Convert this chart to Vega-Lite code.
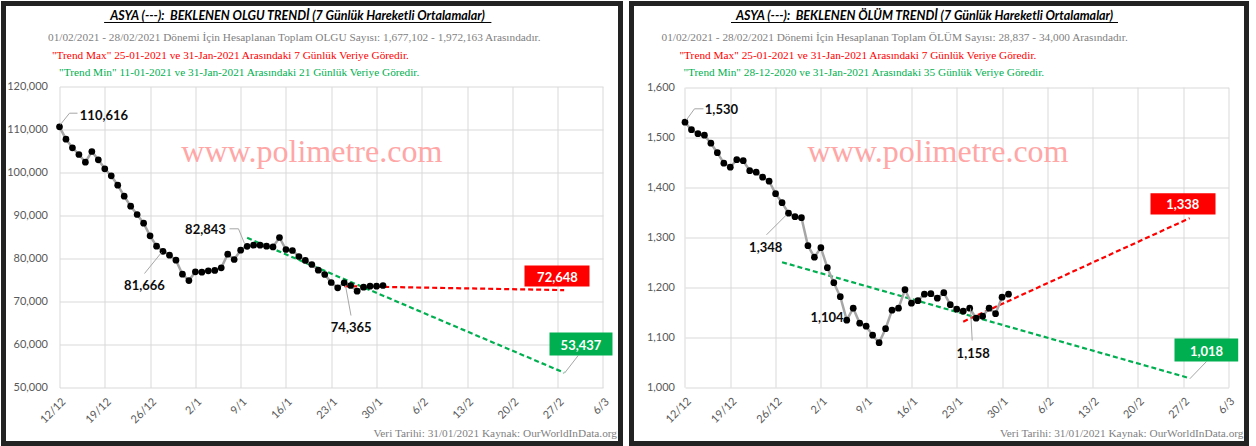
{
  "$schema": "https://vega.github.io/schema/vega-lite/v6.json",
  "background": "white",
  "padding": {"left": 0.5, "top": 0.5, "right": 0, "bottom": 0},
  "spacing": 5,
  "config": {
    "view": {"stroke": "#222222", "strokeWidth": 5, "fill": "white"},
    "axis": {"labelFont": "Lato", "labelFontSize": 11, "labelColor": "#595959", "domain": false, "grid": false, "tickColor": "#d9d9d9", "tickWidth": 1, "labelOverlap": false, "labelFlush": false, "labelBound": false},
    "text": {"font": "Lato"}
  },
  "datasets": {
    "olgu": [
      {"date": "2020-12-12", "value": 110616}, {"date": "2020-12-13", "value": 107744}, {"date": "2020-12-14", "value": 105744},
      {"date": "2020-12-15", "value": 104186}, {"date": "2020-12-16", "value": 102395}, {"date": "2020-12-17", "value": 104884},
      {"date": "2020-12-18", "value": 102953}, {"date": "2020-12-19", "value": 100860}, {"date": "2020-12-20", "value": 99233},
      {"date": "2020-12-21", "value": 97047}, {"date": "2020-12-22", "value": 94488}, {"date": "2020-12-23", "value": 92163},
      {"date": "2020-12-24", "value": 90233}, {"date": "2020-12-25", "value": 88209}, {"date": "2020-12-26", "value": 85279},
      {"date": "2020-12-27", "value": 82860}, {"date": "2020-12-28", "value": 81666}, {"date": "2020-12-29", "value": 80770},
      {"date": "2020-12-30", "value": 79600}, {"date": "2020-12-31", "value": 76350}, {"date": "2021-01-01", "value": 74870},
      {"date": "2021-01-02", "value": 76900}, {"date": "2021-01-03", "value": 76830}, {"date": "2021-01-04", "value": 77140},
      {"date": "2021-01-05", "value": 77220}, {"date": "2021-01-06", "value": 77840}, {"date": "2021-01-07", "value": 81000},
      {"date": "2021-01-08", "value": 79770}, {"date": "2021-01-09", "value": 81930}, {"date": "2021-01-10", "value": 82843},
      {"date": "2021-01-11", "value": 83100}, {"date": "2021-01-12", "value": 83100}, {"date": "2021-01-13", "value": 82860},
      {"date": "2021-01-14", "value": 82700}, {"date": "2021-01-15", "value": 84880}, {"date": "2021-01-16", "value": 82090},
      {"date": "2021-01-17", "value": 81860}, {"date": "2021-01-18", "value": 80470}, {"date": "2021-01-19", "value": 79540},
      {"date": "2021-01-20", "value": 78600}, {"date": "2021-01-21", "value": 77290}, {"date": "2021-01-22", "value": 76280},
      {"date": "2021-01-23", "value": 74420}, {"date": "2021-01-24", "value": 73190}, {"date": "2021-01-25", "value": 74365},
      {"date": "2021-01-26", "value": 73720}, {"date": "2021-01-27", "value": 72400}, {"date": "2021-01-28", "value": 73330},
      {"date": "2021-01-29", "value": 73560}, {"date": "2021-01-30", "value": 73560}, {"date": "2021-01-31", "value": 73720}
    ],
    "olguTrend": [
      {"trend": "Trend Min", "date": "2021-01-10", "value": 84800},
      {"trend": "Trend Min", "date": "2021-02-28", "value": 53437},
      {"trend": "Trend Max", "date": "2021-01-25", "value": 73560},
      {"trend": "Trend Max", "date": "2021-02-28", "value": 72648}
    ],
    "olum": [
      {"date": "2020-12-12", "value": 1530}, {"date": "2020-12-13", "value": 1515}, {"date": "2020-12-14", "value": 1507},
      {"date": "2020-12-15", "value": 1504}, {"date": "2020-12-16", "value": 1488}, {"date": "2020-12-17", "value": 1469},
      {"date": "2020-12-18", "value": 1448}, {"date": "2020-12-19", "value": 1440}, {"date": "2020-12-20", "value": 1455},
      {"date": "2020-12-21", "value": 1453}, {"date": "2020-12-22", "value": 1433}, {"date": "2020-12-23", "value": 1430},
      {"date": "2020-12-24", "value": 1420}, {"date": "2020-12-25", "value": 1412}, {"date": "2020-12-26", "value": 1387},
      {"date": "2020-12-27", "value": 1369}, {"date": "2020-12-28", "value": 1348}, {"date": "2020-12-29", "value": 1341},
      {"date": "2020-12-30", "value": 1339}, {"date": "2020-12-31", "value": 1283}, {"date": "2021-01-01", "value": 1260},
      {"date": "2021-01-02", "value": 1279}, {"date": "2021-01-03", "value": 1239}, {"date": "2021-01-04", "value": 1209},
      {"date": "2021-01-05", "value": 1181}, {"date": "2021-01-06", "value": 1134}, {"date": "2021-01-07", "value": 1158},
      {"date": "2021-01-08", "value": 1128}, {"date": "2021-01-09", "value": 1122}, {"date": "2021-01-10", "value": 1104},
      {"date": "2021-01-11", "value": 1089}, {"date": "2021-01-12", "value": 1117}, {"date": "2021-01-13", "value": 1154},
      {"date": "2021-01-14", "value": 1158}, {"date": "2021-01-15", "value": 1195}, {"date": "2021-01-16", "value": 1168},
      {"date": "2021-01-17", "value": 1173}, {"date": "2021-01-18", "value": 1186}, {"date": "2021-01-19", "value": 1187},
      {"date": "2021-01-20", "value": 1178}, {"date": "2021-01-21", "value": 1189}, {"date": "2021-01-22", "value": 1165},
      {"date": "2021-01-23", "value": 1156}, {"date": "2021-01-24", "value": 1152}, {"date": "2021-01-25", "value": 1158},
      {"date": "2021-01-26", "value": 1138}, {"date": "2021-01-27", "value": 1142}, {"date": "2021-01-28", "value": 1158},
      {"date": "2021-01-29", "value": 1147}, {"date": "2021-01-30", "value": 1180}, {"date": "2021-01-31", "value": 1186}
    ],
    "olumTrend": [
      {"trend": "Trend Min", "date": "2020-12-27", "value": 1250},
      {"trend": "Trend Min", "date": "2021-02-28", "value": 1018},
      {"trend": "Trend Max", "date": "2021-01-24", "value": 1131},
      {"trend": "Trend Max", "date": "2021-02-28", "value": 1338}
    ]
  },
  "hconcat": [
    {
      "width": 617,
      "height": 440,
      "layer": [
        {"data": {"values": [{}]}, "mark": {"type": "text", "text": "www.polimetre.com", "font": "Liberation Serif", "fontSize": 32, "color": "#ffa6a6", "align": "center", "baseline": "alphabetic"},
         "encoding": {"x": {"datum": 1611100800000, "type": "temporal"}, "y": {"datum": 102395, "type": "quantitative"}}},
        {
          "encoding": {
            "x": {
              "field": "date", "type": "temporal",
              "scale": {"type": "utc", "domain": [{"year": 2020, "month": 12, "date": 3, "hours": 8, "minutes": 17, "utc": true}, {"year": 2021, "month": 3, "date": 8, "hours": 17, "utc": true}]},
              "axis": {
                "values": [
                  {"year": 2020, "month": 12, "date": 12, "utc": true}, {"year": 2020, "month": 12, "date": 19, "utc": true}, {"year": 2020, "month": 12, "date": 26, "utc": true},
                  {"year": 2021, "month": 1, "date": 2, "utc": true}, {"year": 2021, "month": 1, "date": 9, "utc": true}, {"year": 2021, "month": 1, "date": 16, "utc": true},
                  {"year": 2021, "month": 1, "date": 23, "utc": true}, {"year": 2021, "month": 1, "date": 30, "utc": true}, {"year": 2021, "month": 2, "date": 6, "utc": true},
                  {"year": 2021, "month": 2, "date": 13, "utc": true}, {"year": 2021, "month": 2, "date": 20, "utc": true}, {"year": 2021, "month": 2, "date": 27, "utc": true},
                  {"year": 2021, "month": 3, "date": 6, "utc": true}
                ],
                "format": "%-d/%-m", "labelAngle": -45, "labelColor": "#595959", "offset": -56, "tickSize": -301, "labelPadding": 309, "title": null
              }
            },
            "y": {
              "field": "value", "type": "quantitative",
              "scale": {"domain": [36977, 139302], "nice": false, "zero": false},
              "axis": {"values": [50000, 60000, 70000, 80000, 90000, 100000, 110000, 120000], "format": ",d", "labelColor": "#595959", "offset": -56, "tickSize": -543.5, "labelPadding": 555.5, "title": null}
            }
          },
          "layer": [
            {"data": {"name": "olguTrend"}, "mark": {"type": "line", "strokeWidth": 2.2, "strokeDash": [5, 3]},
             "encoding": {"color": {"field": "trend", "type": "nominal", "scale": {"domain": ["Trend Max", "Trend Min"], "range": ["#ff0000", "#00b050"]}, "legend": null}}},
            {"data": {"name": "olgu"}, "mark": {"type": "line", "color": "#a6a6a6", "strokeWidth": 2.5}},
            {"data": {"name": "olgu"}, "mark": {"type": "point", "filled": true, "color": "#000000", "size": 45, "opacity": 1}}
          ]
        },
        {"data": {"values": [{}]}, "mark": {"type": "text", "text": "ASYA (---): \u00a0BEKLENEN OLGU TRENDİ (7 Günlük Hareketli Ortalamalar)", "font": "Lato", "fontSize": 12.5, "fontWeight": "bold", "fontStyle": "italic", "color": "#000000", "align": "center", "baseline": "alphabetic"},
         "encoding": {"x": {"datum": 1610909424000, "type": "temporal"}, "y": {"datum": 135465, "type": "quantitative"}}},
        {"data": {"values": [{}]}, "mark": {"type": "rule", "color": "#000000", "strokeWidth": 1},
         "encoding": {"x": {"datum": 1608326755200, "type": "temporal"}, "x2": {"datum": 1613498745600}, "y": {"datum": 134884, "type": "quantitative"}}},
        {"data": {"values": [{}]}, "mark": {"type": "text", "text": "01/02/2021 - 28/02/2021 Dönemi İçin Hesaplanan Toplam OLGU Sayısı: 1,677,102 - 1,972,163 Arasındadır.", "font": "Liberation Serif", "fontSize": 11.3, "color": "#7f7f7f", "align": "left", "baseline": "alphabetic"},
         "encoding": {"x": {"datum": 1607577667200, "type": "temporal"}, "y": {"datum": 130581, "type": "quantitative"}}},
        {"data": {"values": [{}]}, "mark": {"type": "text", "text": "\"Trend Max\" 25-01-2021 ve 31-Jan-2021 Arasındaki 7 Günlük Veriye Göredir.", "font": "Liberation Serif", "fontSize": 11.3, "color": "#ff0000", "align": "left", "baseline": "alphabetic"},
         "encoding": {"x": {"datum": 1607631062400, "type": "temporal"}, "y": {"datum": 126442, "type": "quantitative"}}},
        {"data": {"values": [{}]}, "mark": {"type": "text", "text": "\"Trend Min\" 11-01-2021 ve 31-Jan-2021 Arasındaki 21 Günlük Veriye Göredir.", "font": "Liberation Serif", "fontSize": 11.3, "color": "#00b050", "align": "left", "baseline": "alphabetic"},
         "encoding": {"x": {"datum": 1607725843200, "type": "temporal"}, "y": {"datum": 122395, "type": "quantitative"}}},
        {"data": {"values": [{}]}, "mark": {"type": "text", "text": "Veri Tarihi: 31/01/2021 Kaynak: OurWorldInData.org", "font": "Liberation Serif", "fontSize": 11.3, "color": "#7f7f7f", "align": "right", "baseline": "alphabetic"},
         "encoding": {"x": {"datum": 1615176028800, "type": "temporal"}, "y": {"datum": 38604, "type": "quantitative"}}},
        {"data": {"values": [{}]}, "mark": {"type": "rule", "color": "#a6a6a6", "strokeWidth": 1},
         "encoding": {"x": {"datum": 1607744592000, "type": "temporal"}, "y": {"datum": 111163, "type": "quantitative"}, "x2": {"datum": 1607864774400}, "y2": {"datum": 113791}}},
        {"data": {"values": [{}]}, "mark": {"type": "rule", "color": "#a6a6a6", "strokeWidth": 1},
         "encoding": {"x": {"datum": 1607864774400, "type": "temporal"}, "y": {"datum": 113791, "type": "quantitative"}, "x2": {"datum": 1607971564800}, "y2": {"datum": 113791}}},
        {"data": {"values": [{}]}, "mark": {"type": "rule", "color": "#a6a6a6", "strokeWidth": 1},
         "encoding": {"x": {"datum": 1608866323200, "type": "temporal"}, "y": {"datum": 76511, "type": "quantitative"}, "x2": {"datum": 1609093296000}, "y2": {"datum": 81395}}},
        {"data": {"values": [{}]}, "mark": {"type": "rule", "color": "#a6a6a6", "strokeWidth": 1},
         "encoding": {"x": {"datum": 1610001360000, "type": "temporal"}, "y": {"datum": 86907, "type": "quantitative"}, "x2": {"datum": 1610121542400}, "y2": {"datum": 86907}}},
        {"data": {"values": [{}]}, "mark": {"type": "rule", "color": "#a6a6a6", "strokeWidth": 1},
         "encoding": {"x": {"datum": 1610121542400, "type": "temporal"}, "y": {"datum": 86907, "type": "quantitative"}, "x2": {"datum": 1610201721600}, "y2": {"datum": 83488}}},
        {"data": {"values": [{}]}, "mark": {"type": "rule", "color": "#a6a6a6", "strokeWidth": 1},
         "encoding": {"x": {"datum": 1611550425600, "type": "temporal"}, "y": {"datum": 73720, "type": "quantitative"}, "x2": {"datum": 1611623865600}, "y2": {"datum": 66744}}},
        {"data": {"values": [{}]}, "mark": {"type": "rule", "color": "#a6a6a6", "strokeWidth": 1},
         "encoding": {"x": {"datum": 1614657888000, "type": "temporal"}, "y": {"datum": 57441, "type": "quantitative"}, "x2": {"datum": 1614474979200}, "y2": {"datum": 53325}}},
        {"data": {"values": [{}]}, "mark": {"type": "text", "text": "110,616", "font": "Lato", "fontSize": 13, "fontWeight": "bold", "color": "#0d0d0d", "align": "left", "baseline": "alphabetic"},
         "encoding": {"x": {"datum": 1608002323200, "type": "temporal"}, "y": {"datum": 112256, "type": "quantitative"}}},
        {"data": {"values": [{}]}, "mark": {"type": "text", "text": "81,666", "font": "Lato", "fontSize": 13, "fontWeight": "bold", "color": "#0d0d0d", "align": "center", "baseline": "alphabetic"},
         "encoding": {"x": {"datum": 1608866323200, "type": "temporal"}, "y": {"datum": 72721, "type": "quantitative"}}},
        {"data": {"values": [{}]}, "mark": {"type": "text", "text": "82,843", "font": "Lato", "fontSize": 13, "fontWeight": "bold", "color": "#0d0d0d", "align": "center", "baseline": "alphabetic"},
         "encoding": {"x": {"datum": 1609680902400, "type": "temporal"}, "y": {"datum": 85744, "type": "quantitative"}}},
        {"data": {"values": [{}]}, "mark": {"type": "text", "text": "74,365", "font": "Lato", "fontSize": 13, "fontWeight": "bold", "color": "#0d0d0d", "align": "center", "baseline": "alphabetic"},
         "encoding": {"x": {"datum": 1611626544000, "type": "temporal"}, "y": {"datum": 62860, "type": "quantitative"}}},
        {"data": {"values": [{}]}, "mark": {"type": "rect", "color": "#ff0000"},
         "encoding": {"x": {"datum": 1613940768000, "type": "temporal"}, "x2": {"datum": 1614808828800}, "y": {"datum": 78372, "type": "quantitative"}, "y2": {"datum": 73488}}},
        {"data": {"values": [{}]}, "mark": {"type": "text", "text": "72,648", "font": "Lato", "fontSize": 13, "fontWeight": "bold", "color": "#ffffff", "align": "center", "baseline": "alphabetic"},
         "encoding": {"x": {"datum": 1614381494400, "type": "temporal"}, "y": {"datum": 74488, "type": "quantitative"}}},
        {"data": {"values": [{}]}, "mark": {"type": "rect", "color": "#00b050"},
         "encoding": {"x": {"datum": 1614274617600, "type": "temporal"}, "x2": {"datum": 1615115894400}, "y": {"datum": 62790, "type": "quantitative"}, "y2": {"datum": 57441}}},
        {"data": {"values": [{}]}, "mark": {"type": "text", "text": "53,437", "font": "Lato", "fontSize": 13, "fontWeight": "bold", "color": "#ffffff", "align": "center", "baseline": "alphabetic"},
         "encoding": {"x": {"datum": 1614695299200, "type": "temporal"}, "y": {"datum": 58767, "type": "quantitative"}}}
      ]
    },
    {
      "width": 615,
      "height": 440,
      "layer": [
        {"data": {"values": [{}]}, "mark": {"type": "text", "text": "www.polimetre.com", "font": "Liberation Serif", "fontSize": 32, "color": "#ffa6a6", "align": "center", "baseline": "alphabetic"},
         "encoding": {"x": {"datum": 1611109785600, "type": "temporal"}, "y": {"datum": 1450, "type": "quantitative"}}},
        {
          "encoding": {
            "x": {
              "field": "date", "type": "temporal",
              "scale": {"type": "utc", "domain": [{"year": 2020, "month": 12, "date": 3, "hours": 17, "minutes": 33, "utc": true}, {"year": 2021, "month": 3, "date": 8, "hours": 18, "minutes": 50, "utc": true}]},
              "axis": {
                "values": [
                  {"year": 2020, "month": 12, "date": 12, "utc": true}, {"year": 2020, "month": 12, "date": 19, "utc": true}, {"year": 2020, "month": 12, "date": 26, "utc": true},
                  {"year": 2021, "month": 1, "date": 2, "utc": true}, {"year": 2021, "month": 1, "date": 9, "utc": true}, {"year": 2021, "month": 1, "date": 16, "utc": true},
                  {"year": 2021, "month": 1, "date": 23, "utc": true}, {"year": 2021, "month": 1, "date": 30, "utc": true}, {"year": 2021, "month": 2, "date": 6, "utc": true},
                  {"year": 2021, "month": 2, "date": 13, "utc": true}, {"year": 2021, "month": 2, "date": 20, "utc": true}, {"year": 2021, "month": 2, "date": 27, "utc": true},
                  {"year": 2021, "month": 3, "date": 6, "utc": true}
                ],
                "format": "%-d/%-m", "labelAngle": -45, "labelColor": "#595959", "offset": -56.3, "tickSize": -300, "labelPadding": 308, "title": null
              }
            },
            "y": {
              "field": "value", "type": "quantitative",
              "scale": {"domain": [887.4, 1767.4], "nice": false, "zero": false},
              "axis": {"values": [1000, 1100, 1200, 1300, 1400, 1500, 1600], "format": ",d", "labelColor": "#595959", "offset": -53.5, "tickSize": -543.5, "labelPadding": 554, "title": null}
            }
          },
          "layer": [
            {"data": {"name": "olumTrend"}, "mark": {"type": "line", "strokeWidth": 2.2, "strokeDash": [5, 3]},
             "encoding": {"color": {"field": "trend", "type": "nominal", "scale": {"domain": ["Trend Max", "Trend Min"], "range": ["#ff0000", "#00b050"]}, "legend": null}}},
            {"data": {"name": "olum"}, "mark": {"type": "line", "color": "#a6a6a6", "strokeWidth": 2.5}},
            {"data": {"name": "olum"}, "mark": {"type": "point", "filled": true, "color": "#000000", "size": 45, "opacity": 1}}
          ]
        },
        {"data": {"values": [{}]}, "mark": {"type": "text", "text": "ASYA (---): \u00a0BEKLENEN ÖLÜM TRENDİ (7 Günlük Hareketli Ortalamalar)", "font": "Lato", "fontSize": 12.5, "fontWeight": "bold", "fontStyle": "italic", "color": "#000000", "align": "center", "baseline": "alphabetic"},
         "encoding": {"x": {"datum": 1610929468800, "type": "temporal"}, "y": {"datum": 1734.4, "type": "quantitative"}}},
        {"data": {"values": [{}]}, "mark": {"type": "rule", "color": "#000000", "strokeWidth": 1},
         "encoding": {"x": {"datum": 1608345504000, "type": "temporal"}, "x2": {"datum": 1613513433600}, "y": {"datum": 1729.4, "type": "quantitative"}}},
        {"data": {"values": [{}]}, "mark": {"type": "text", "text": "01/02/2021 - 28/02/2021 Dönemi İçin Hesaplanan Toplam ÖLÜM Sayısı: 28,837 - 34,000 Arasındadır.", "font": "Liberation Serif", "fontSize": 11.3, "color": "#7f7f7f", "align": "left", "baseline": "alphabetic"},
         "encoding": {"x": {"datum": 1607417395200, "type": "temporal"}, "y": {"datum": 1692.4, "type": "quantitative"}}},
        {"data": {"values": [{}]}, "mark": {"type": "text", "text": "\"Trend Max\" 25-01-2021 ve 31-Jan-2021 Arasındaki 7 Günlük Veriye Göredir.", "font": "Liberation Serif", "fontSize": 11.3, "color": "#ff0000", "align": "left", "baseline": "alphabetic"},
         "encoding": {"x": {"datum": 1607657760000, "type": "temporal"}, "y": {"datum": 1656.8, "type": "quantitative"}}},
        {"data": {"values": [{}]}, "mark": {"type": "text", "text": "\"Trend Min\" 28-12-2020 ve 31-Jan-2021 Arasındaki 35 Günlük Veriye Göredir.", "font": "Liberation Serif", "fontSize": 11.3, "color": "#00b050", "align": "left", "baseline": "alphabetic"},
         "encoding": {"x": {"datum": 1607711155200, "type": "temporal"}, "y": {"datum": 1622, "type": "quantitative"}}},
        {"data": {"values": [{}]}, "mark": {"type": "text", "text": "Veri Tarihi: 31/01/2021 Kaynak: OurWorldInData.org", "font": "Liberation Serif", "fontSize": 11.3, "color": "#7f7f7f", "align": "right", "baseline": "alphabetic"},
         "encoding": {"x": {"datum": 1615189334400, "type": "temporal"}, "y": {"datum": 901.4, "type": "quantitative"}}},
        {"data": {"values": [{}]}, "mark": {"type": "rule", "color": "#a6a6a6", "strokeWidth": 1},
         "encoding": {"x": {"datum": 1607751244800, "type": "temporal"}, "y": {"datum": 1534.8, "type": "quantitative"}, "x2": {"datum": 1607858035200}, "y2": {"datum": 1556.8}}},
        {"data": {"values": [{}]}, "mark": {"type": "rule", "color": "#a6a6a6", "strokeWidth": 1},
         "encoding": {"x": {"datum": 1607858035200, "type": "temporal"}, "y": {"datum": 1556.8, "type": "quantitative"}, "x2": {"datum": 1607978217600}, "y2": {"datum": 1556.8}}},
        {"data": {"values": [{}]}, "mark": {"type": "rule", "color": "#a6a6a6", "strokeWidth": 1},
         "encoding": {"x": {"datum": 1608819580800, "type": "temporal"}, "y": {"datum": 1304.8, "type": "quantitative"}, "x2": {"datum": 1609086643200}, "y2": {"datum": 1344.8}}},
        {"data": {"values": [{}]}, "mark": {"type": "rule", "color": "#a6a6a6", "strokeWidth": 1},
         "encoding": {"x": {"datum": 1611543772800, "type": "temporal"}, "y": {"datum": 1157.4, "type": "quantitative"}, "x2": {"datum": 1611566409600}, "y2": {"datum": 1093.4}}},
        {"data": {"values": [{}]}, "mark": {"type": "rule", "color": "#a6a6a6", "strokeWidth": 1},
         "encoding": {"x": {"datum": 1614695299200, "type": "temporal"}, "y": {"datum": 1051.4, "type": "quantitative"}, "x2": {"datum": 1614472300800}, "y2": {"datum": 1016.8}}},
        {"data": {"values": [{}]}, "mark": {"type": "text", "text": "1,530", "font": "Lato", "fontSize": 13, "fontWeight": "bold", "color": "#0d0d0d", "align": "left", "baseline": "alphabetic"},
         "encoding": {"x": {"datum": 1607995584000, "type": "temporal"}, "y": {"datum": 1546.8, "type": "quantitative"}}},
        {"data": {"values": [{}]}, "mark": {"type": "text", "text": "1,348", "font": "Lato", "fontSize": 13, "fontWeight": "bold", "color": "#0d0d0d", "align": "center", "baseline": "alphabetic"},
         "encoding": {"x": {"datum": 1608808867200, "type": "temporal"}, "y": {"datum": 1270, "type": "quantitative"}}},
        {"data": {"values": [{}]}, "mark": {"type": "text", "text": "1,104", "font": "Lato", "fontSize": 13, "fontWeight": "bold", "color": "#0d0d0d", "align": "center", "baseline": "alphabetic"},
         "encoding": {"x": {"datum": 1609627420800, "type": "temporal"}, "y": {"datum": 1130, "type": "quantitative"}}},
        {"data": {"values": [{}]}, "mark": {"type": "text", "text": "1,158", "font": "Lato", "fontSize": 13, "fontWeight": "bold", "color": "#0d0d0d", "align": "center", "baseline": "alphabetic"},
         "encoding": {"x": {"datum": 1611579801600, "type": "temporal"}, "y": {"datum": 1058.8, "type": "quantitative"}}},
        {"data": {"values": [{}]}, "mark": {"type": "rect", "color": "#ff0000"},
         "encoding": {"x": {"datum": 1613947420800, "type": "temporal"}, "x2": {"datum": 1614815481600}, "y": {"datum": 1388, "type": "quantitative"}, "y2": {"datum": 1345.4}}},
        {"data": {"values": [{}]}, "mark": {"type": "text", "text": "1,338", "font": "Lato", "fontSize": 13, "fontWeight": "bold", "color": "#ffffff", "align": "center", "baseline": "alphabetic"},
         "encoding": {"x": {"datum": 1614378816000, "type": "temporal"}, "y": {"datum": 1356.8, "type": "quantitative"}}},
        {"data": {"values": [{}]}, "mark": {"type": "rect", "color": "#00b050"},
         "encoding": {"x": {"datum": 1614267964800, "type": "temporal"}, "x2": {"datum": 1615118572800}, "y": {"datum": 1097.4, "type": "quantitative"}, "y2": {"datum": 1051.4}}},
        {"data": {"values": [{}]}, "mark": {"type": "text", "text": "1,018", "font": "Lato", "fontSize": 13, "fontWeight": "bold", "color": "#ffffff", "align": "center", "baseline": "alphabetic"},
         "encoding": {"x": {"datum": 1614695299200, "type": "temporal"}, "y": {"datum": 1063.4, "type": "quantitative"}}}
      ]
    }
  ]
}
